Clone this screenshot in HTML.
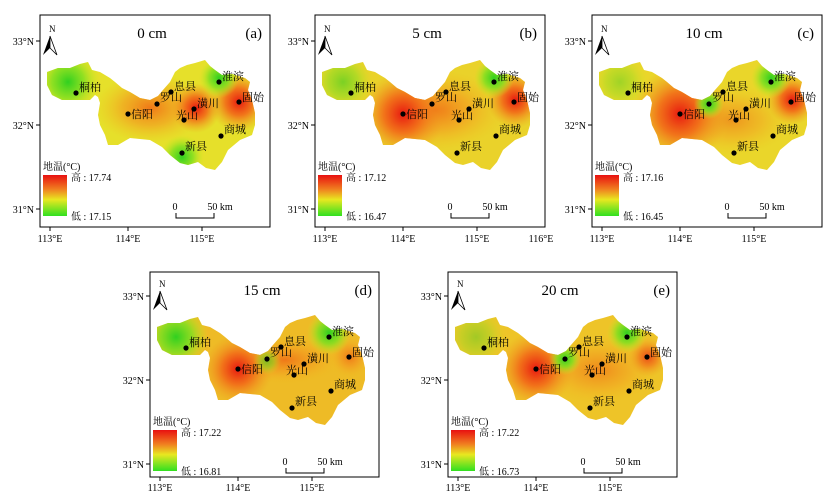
<!DOCTYPE html>
<html><head><meta charset="utf-8"><style>
body{margin:0;background:#fff}
svg{display:block}
text{font-family:"Liberation Serif","Noto Serif CJK SC","Noto Sans CJK SC",serif;fill:#000}
.c{font-size:11px}
.t{font-size:10px}
.ti{font-size:15px}
.lg{font-size:10px}
</style></head><body>
<svg width="829" height="498" viewBox="0 0 829 498" xmlns="http://www.w3.org/2000/svg">
<defs>
<path id="shp" d="M47,72 L58,68 L70,68 L80,64 L88,62 L92,70 L100,72 L110,78 L115,82 L122,88 L130,92 L140,98 L150,100 L158,96 L163,90 L170,82 L175,72 L180,68 L187,65 L195,63 L205,60 L210,66 L215,70 L222,75 L232,74 L245,78 L250,82 L248,90 L252,100 L255,113 L255,125 L252,135 L240,140 L228,150 L222,162 L215,170 L206,168 L198,162 L188,165 L180,163 L170,155 L162,147 L150,140 L130,138 L118,145 L108,145 L105,135 L100,125 L98,115 L100,103 L98,97 L95,95 L90,100 L85,100 L75,100 L62,100 L52,95 L47,85 Z"/>
<clipPath id="clp"><use href="#shp"/></clipPath>
<radialGradient id="red"><stop offset="0" stop-color="#e81a10"/><stop offset="0.45" stop-color="#f26a18" stop-opacity="0.9"/><stop offset="1" stop-color="#f0a020" stop-opacity="0"/></radialGradient>
<radialGradient id="org"><stop offset="0" stop-color="#f07818"/><stop offset="0.5" stop-color="#f2a020" stop-opacity="0.7"/><stop offset="1" stop-color="#f0c020" stop-opacity="0"/></radialGradient>
<radialGradient id="grn"><stop offset="0" stop-color="#30d020"/><stop offset="0.5" stop-color="#80e020" stop-opacity="0.85"/><stop offset="1" stop-color="#c8e820" stop-opacity="0"/></radialGradient>
<linearGradient id="bar" x1="0" y1="0" x2="0" y2="1"><stop offset="0" stop-color="#e81010"/><stop offset="0.35" stop-color="#f08020"/><stop offset="0.6" stop-color="#e8e820"/><stop offset="1" stop-color="#30e020"/></linearGradient>
<g id="frame">
<line x1="36" y1="41" x2="40" y2="41" stroke="#000"/><line x1="36" y1="125" x2="40" y2="125" stroke="#000"/><line x1="36" y1="209" x2="40" y2="209" stroke="#000"/>
<text class="t" x="34" y="45" text-anchor="end">33°N</text>
<text class="t" x="34" y="129" text-anchor="end">32°N</text>
<text class="t" x="34" y="213" text-anchor="end">31°N</text>
<text x="49" y="32" font-size="9">N</text>
<path d="M50,36 L43,55 L50,48 Z" fill="#000"/><path d="M50,36 L57,55 L50,48 Z" fill="#fff" stroke="#000" stroke-width="0.8"/>
<text class="lg" x="43" y="170">地温(°C)</text>
<rect x="43" y="175" width="24" height="41" fill="url(#bar)"/>
<text class="t" x="175" y="210" text-anchor="middle">0</text>
<text class="t" x="220" y="210" text-anchor="middle">50 km</text>
<path d="M176,213 L176,218 L214,218 L214,213" fill="none" stroke="#000"/>
</g>
<g id="btop">
<rect x="40" y="15" width="230" height="212" fill="none" stroke="#000" stroke-width="1"/>
<line x1="50" y1="227" x2="50" y2="231" stroke="#000"/><line x1="128" y1="227" x2="128" y2="231" stroke="#000"/><line x1="202" y1="227" x2="202" y2="231" stroke="#000"/>
<text class="t" x="50" y="242" text-anchor="middle">113°E</text>
<text class="t" x="128" y="242" text-anchor="middle">114°E</text>
<text class="t" x="202" y="242" text-anchor="middle">115°E</text>
</g>
<g id="bbot">
<rect x="40" y="17" width="229" height="205" fill="none" stroke="#000" stroke-width="1"/>
<line x1="50" y1="222" x2="50" y2="226" stroke="#000"/><line x1="128" y1="222" x2="128" y2="226" stroke="#000"/><line x1="202" y1="222" x2="202" y2="226" stroke="#000"/>
<text class="t" x="50" y="236" text-anchor="middle">113°E</text>
<text class="t" x="128" y="236" text-anchor="middle">114°E</text>
<text class="t" x="202" y="236" text-anchor="middle">115°E</text>
</g>
<g id="cities">
<g fill="#000"><circle cx="76" cy="93" r="2.6"/><circle cx="128" cy="114" r="2.6"/><circle cx="157" cy="104" r="2.6"/><circle cx="171" cy="92" r="2.6"/><circle cx="194" cy="109" r="2.6"/><circle cx="184" cy="120" r="2.6"/><circle cx="239" cy="102" r="2.6"/><circle cx="219" cy="82" r="2.6"/><circle cx="221" cy="136" r="2.6"/><circle cx="182" cy="153" r="2.6"/></g>
<text class="c" x="79" y="91">桐柏</text>
<text class="c" x="131" y="118">信阳</text>
<text class="c" x="160" y="101">罗山</text>
<text class="c" x="174" y="90">息县</text>
<text class="c" x="197" y="107">潢川</text>
<text class="c" x="176" y="119">光山</text>
<text class="c" x="242" y="101">固始</text>
<text class="c" x="222" y="80">淮滨</text>
<text class="c" x="224" y="133">商城</text>
<text class="c" x="185" y="150">新县</text>
</g>
</defs>

<!-- (a) -->
<g>
<g clip-path="url(#clp)">
<rect x="40" y="50" width="230" height="130" fill="#e6e02a"/>
<ellipse cx="150" cy="108" rx="55" ry="35" fill="url(#org)"/>
<circle cx="239" cy="102" r="30" fill="url(#red)"/>
<circle cx="196" cy="108" r="25" fill="url(#red)"/>
<circle cx="68" cy="82" r="32" fill="url(#grn)"/>
<circle cx="219" cy="78" r="20" fill="url(#grn)"/>
<circle cx="182" cy="157" r="22" fill="url(#grn)"/>
</g>
<use href="#frame"/><use href="#btop"/><use href="#cities"/>
<text class="ti" x="152" y="38" text-anchor="middle">0 cm</text>
<text class="ti" x="262" y="38" text-anchor="end">(a)</text>
<text class="t" x="71" y="181">高 : 17.74</text><text class="t" x="71" y="220">低 : 17.15</text>
</g>

<!-- (b) -->
<g transform="translate(275,0)">
<g clip-path="url(#clp)">
<rect x="40" y="50" width="230" height="130" fill="#ead22a"/>
<ellipse cx="160" cy="110" rx="70" ry="40" fill="url(#org)"/>
<circle cx="128" cy="114" r="42" fill="url(#red)"/>
<circle cx="240" cy="100" r="28" fill="url(#red)"/>
<circle cx="68" cy="82" r="30" fill="url(#grn)" opacity="0.6"/>
<circle cx="219" cy="78" r="20" fill="url(#grn)"/>
</g>
<use href="#frame"/><use href="#btop"/><use href="#cities"/>
<text class="ti" x="152" y="38" text-anchor="middle">5 cm</text>
<text class="ti" x="262" y="38" text-anchor="end">(b)</text>
<text class="t" x="71" y="181">高 : 17.12</text><text class="t" x="71" y="220">低 : 16.47</text>
<text class="t" x="266" y="242" text-anchor="middle">116°E</text>
</g>

<!-- (c) -->
<g transform="translate(552,0)">
<g clip-path="url(#clp)">
<rect x="40" y="50" width="230" height="130" fill="#ead62a"/>
<ellipse cx="180" cy="120" rx="60" ry="35" fill="url(#org)" opacity="0.7"/>
<circle cx="128" cy="114" r="48" fill="url(#red)"/>
<circle cx="240" cy="100" r="25" fill="url(#red)"/>
<circle cx="219" cy="78" r="20" fill="url(#grn)"/>
<circle cx="157" cy="104" r="15" fill="url(#grn)"/>
<circle cx="68" cy="82" r="28" fill="url(#grn)" opacity="0.4"/>
</g>
<use href="#frame"/><use href="#btop"/><use href="#cities"/>
<text class="ti" x="152" y="38" text-anchor="middle">10 cm</text>
<text class="ti" x="262" y="38" text-anchor="end">(c)</text>
<text class="t" x="71" y="181">高 : 17.16</text><text class="t" x="71" y="220">低 : 16.45</text>
</g>

<!-- (d) -->
<g transform="translate(110,255)">
<g clip-path="url(#clp)">
<rect x="40" y="50" width="230" height="130" fill="#eebb26"/>
<ellipse cx="175" cy="105" rx="60" ry="25" fill="url(#org)"/>
<circle cx="128" cy="114" r="35" fill="url(#red)"/>
<circle cx="240" cy="102" r="22" fill="url(#org)"/>
<circle cx="66" cy="82" r="32" fill="url(#grn)"/>
<circle cx="219" cy="78" r="22" fill="url(#grn)"/>
<circle cx="157" cy="106" r="14" fill="url(#grn)" opacity="0.6"/>
</g>
<use href="#frame"/><use href="#bbot"/><use href="#cities"/>
<text class="ti" x="152" y="40" text-anchor="middle">15 cm</text>
<text class="ti" x="262" y="40" text-anchor="end">(d)</text>
<text class="t" x="71" y="181">高 : 17.22</text><text class="t" x="71" y="220">低 : 16.81</text>
</g>

<!-- (e) -->
<g transform="translate(408,255)">
<g clip-path="url(#clp)">
<rect x="40" y="50" width="230" height="130" fill="#eec428"/>
<ellipse cx="190" cy="115" rx="60" ry="35" fill="url(#org)" opacity="0.8"/>
<circle cx="128" cy="114" r="38" fill="url(#red)"/>
<circle cx="240" cy="102" r="20" fill="url(#red)" opacity="0.7"/>
<circle cx="157" cy="104" r="16" fill="url(#grn)"/>
<circle cx="219" cy="78" r="20" fill="url(#grn)"/>
<circle cx="68" cy="82" r="30" fill="url(#grn)" opacity="0.4"/>
</g>
<use href="#frame"/><use href="#bbot"/><use href="#cities"/>
<text class="ti" x="152" y="40" text-anchor="middle">20 cm</text>
<text class="ti" x="262" y="40" text-anchor="end">(e)</text>
<text class="t" x="71" y="181">高 : 17.22</text><text class="t" x="71" y="220">低 : 16.73</text>
</g>
</svg>
</body></html>
